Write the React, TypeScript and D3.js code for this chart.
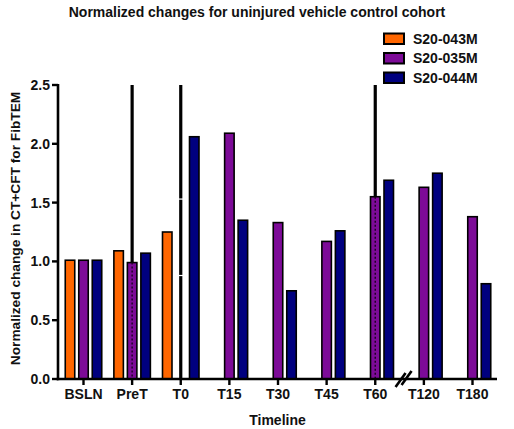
import React from "react";
import * as d3 from "d3";

// Timeline points and the three animals of the cohort
const categories = ["BSLN", "PreT", "T0", "T15", "T30", "T45", "T60", "T120", "T180"];
const seriesNames = ["S20-043M", "S20-035M", "S20-044M"];
const seriesColors = ["#FF6600", "#7D0B98", "#00007F"];

const s043M: (number | null)[] = [1.01, 1.09, 1.25, null, null, null, null, null, null];
const s035M: (number | null)[] = [1.01, 0.99, 0, 2.09, 1.33, 1.17, 1.55, 1.63, 1.38];
const s044M: (number | null)[] = [1.01, 1.07, 2.06, 1.35, 0.75, 1.26, 1.69, 1.75, 0.81];

// Upper end of the S20-035M error bars (runs past the top of the axis)
const s035MErrUpper: (number | null)[] = [null, 3.2, 3.2, null, null, null, 3.2, null, null];
// small breaks drawn across the T0 error bar
const t0ErrBreaks = [0.88, 1.53];

const yTicks = [0, 0.5, 1.0, 1.5, 2.0, 2.5];

const W = 514;
const H = 429;
const FONT = "'Liberation Sans', Arial, sans-serif";

export default function App() {
  const series = [s043M, s035M, s044M];
  const x0 = 58;
  const x1 = 497;
  const y = d3.scaleLinear().domain([0, 2.5]).range([379, 85]);
  const x = d3.scalePoint<string>().domain(categories).range([83.5, 472.5]);
  const offsets = [-13.5, 0, 13.5];
  const barW = 9.5;
  const yBase = y(0);
  const yTop = y(2.5);
  const clampY = (v: number) => y(Math.min(v, 2.5));

  return (
    <svg
      width={W}
      height={H}
      style={{ position: "absolute", left: 0, top: 0, background: "#fff" }}
      fontFamily={FONT}
      fontWeight="bold"
    >
      <rect width={W} height={H} fill="#fff" />
      {/* title */}
      <text x={257} y={17} textAnchor="middle" fontSize={14} fill="#111">
        Normalized changes for uninjured vehicle control cohort
      </text>

      {/* bars */}
      {series.map((vals, si) =>
        vals.map((v, i) => {
          if (v == null || v <= 0) return null;
          const cx = (x(categories[i]) as number) + offsets[si];
          return (
            <rect
              key={`b${si}-${i}`}
              x={cx - barW / 2}
              y={y(v)}
              width={barW}
              height={yBase - y(v)}
              fill={seriesColors[si]}
              stroke="#000"
              strokeWidth={1.6}
            />
          );
        })
      )}

      {/* S20-035M error bars */}
      {s035MErrUpper.map((u, i) => {
        if (u == null) return null;
        const v = s035M[i] ?? 0;
        const cx = x(categories[i]) as number;
        return (
          <g key={`e${i}`}>
            <line x1={cx} x2={cx} y1={clampY(u)} y2={y(v)} stroke="#000" strokeWidth={3.2} />
            {v > 0 && (
              <line
                x1={cx}
                x2={cx}
                y1={y(v)}
                y2={yBase}
                stroke="#1a0020"
                strokeWidth={1.4}
                strokeDasharray="2,2"
              />
            )}
          </g>
        );
      })}
      {t0ErrBreaks.map((b, k) => {
        const cx = x("T0") as number;
        return (
          <line key={`br${k}`} x1={cx - 3} x2={cx + 3} y1={y(b)} y2={y(b)} stroke="#fff" strokeWidth={1.2} />
        );
      })}

      {/* y axis */}
      <line x1={x0} x2={x0} y1={yTop - 1} y2={yBase + 1.2} stroke="#000" strokeWidth={2.6} />
      {yTicks.map((t) => (
        <g key={`yt${t}`}>
          <line x1={x0 - 6} x2={x0} y1={y(t)} y2={y(t)} stroke="#000" strokeWidth={2.4} />
          <text x={50} y={y(t) + 5} textAnchor="end" fontSize={14} fill="#111">
            {d3.format(".1f")(t)}
          </text>
        </g>
      ))}
      <text
        transform={`translate(20,228.5) rotate(-90)`}
        textAnchor="middle"
        fontSize={13.7}
        fill="#111"
      >
        Normalized change in CT+CFT for FibTEM
      </text>

      {/* x axis */}
      <line x1={x0 - 1.3} x2={x1} y1={yBase} y2={yBase} stroke="#000" strokeWidth={2.6} />
      {categories.map((c) => (
        <g key={`xt${c}`}>
          <line x1={x(c) as number} x2={x(c) as number} y1={yBase} y2={yBase + 6} stroke="#000" strokeWidth={2.4} />
          <text x={x(c) as number} y={399} textAnchor="middle" fontSize={14} fill="#111">
            {c}
          </text>
        </g>
      ))}
      {/* axis break between T60 and T120 */}
      {(() => {
        const bx = ((x("T60") as number) + (x("T120") as number)) / 2 + 5;
        return (
          <g stroke="#000" strokeWidth={2.6}>
            <line x1={bx - 9} x2={bx + 1} y1={yBase + 8} y2={yBase - 6} />
            <line x1={bx - 3} x2={bx + 7} y1={yBase + 6} y2={yBase - 8} />
          </g>
        );
      })()}
      <text x={277.5} y={425} textAnchor="middle" fontSize={14} fill="#111">
        Timeline
      </text>

      {/* legend */}
      {seriesNames.map((n, i) => (
        <g key={`lg${n}`} transform={`translate(384,${33.5 + i * 19.5})`}>
          <rect width={20} height={10.5} fill={seriesColors[i]} stroke="#000" strokeWidth={2} />
          <text x={29} y={10} fontSize={14} fill="#111">
            {n}
          </text>
        </g>
      ))}
    </svg>
  );
}
